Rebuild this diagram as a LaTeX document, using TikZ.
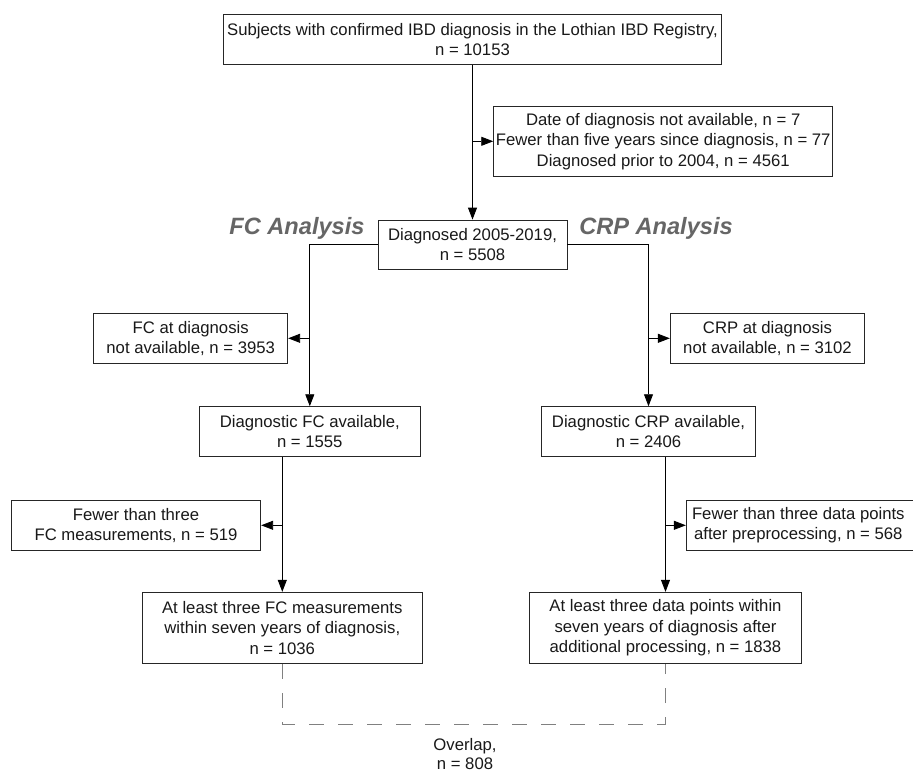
\documentclass[tikz,border=0pt]{standalone}
\usepackage{fontspec}
\setmainfont{Liberation Sans}
\usetikzlibrary{arrows.meta}
\begin{document}
\begin{tikzpicture}[x=1pt,y=-1pt,
  box/.style={draw=black!85, line width=0.9pt, align=center, inner sep=0pt,
    font=\fontsize{16.7}{20.5}\selectfont, text=black!90},
  arr/.style={line width=0.9pt, -{Triangle[length=12pt,width=9pt]}},
  conn/.style={line width=0.9pt},
  dashline/.style={draw=black!50, line width=0.9pt, dash pattern=on 15pt off 14pt},
  analysis/.style={font=\fontsize{23.6}{26}\selectfont\bfseries\itshape, text=black!60, inner sep=0pt},
  plain/.style={align=center, inner sep=0pt, font=\fontsize{16.7}{19.5}\selectfont, text=black!90}]
\clip (0,0) rectangle (913,769);
\fill[white] (0,0) rectangle (913,769);

\node[box, minimum width=498.5pt, minimum height=50pt] (top) at (472.5,39.3)
  {Subjects with confirmed IBD diagnosis in the Lothian IBD Registry,\\ n = 10153};
\node[box, minimum width=339pt, minimum height=70.7pt] (excl) at (663.2,141.3)
  {Date of diagnosis not available, n = 7\\ Fewer than five years since diagnosis, n = 77\\ Diagnosed prior to 2004, n = 4561};
\node[box, minimum width=189pt, minimum height=49.3pt] (diag) at (472.5,244.7)
  {Diagnosed 2005-2019,\\ n = 5508};
\node[analysis] (fclab) at (297,228) {FC Analysis};
\node[analysis] (crplab) at (656,228) {CRP Analysis};

\node[box, minimum width=194pt, minimum height=50pt] (fcna) at (190.7,338.3)
  {FC at diagnosis\\ not available, n = 3953};
\node[box, minimum width=194.4pt, minimum height=50pt] (crpna) at (767.5,338.3)
  {CRP at diagnosis\\ not available, n = 3102};

\node[box, minimum width=221.7pt, minimum height=50pt] (dfc) at (309.8,431.7)
  {Diagnostic FC available,\\ n = 1555};
\node[box, minimum width=213.6pt, minimum height=50pt] (dcrp) at (648.5,431.7)
  {Diagnostic CRP available,\\ n = 2406};

\node[box, minimum width=249.4pt, minimum height=50.7pt] (fcfew) at (136,525.3)
  {Fewer than three\\ FC measurements, n = 519};
\node[box, minimum width=232pt, minimum height=50.7pt] (crpfew) at (802.3,525.3)
  {\hspace*{-8pt}Fewer than three data points\\ \hspace*{-8pt}after preprocessing, n = 568};

\node[box, minimum width=280pt, minimum height=71.4pt] (fcfin) at (282.3,628)
  {At least three FC measurements\\ within seven years of diagnosis,\\ n = 1036};
\node[box, minimum width=272.4pt, minimum height=71.4pt] (crpfin) at (665.5,628)
  {At least three data points within\\ seven years of diagnosis after\\ additional processing, n = 1838};

\node[plain] (ovl) at (465,754) {Overlap,\\ n = 808};
\coordinate (ovc) at (465,724);

% connectors
\draw[arr] (top.south) -- (diag.north);
\draw[arr] (top.south |- excl.west) -- (excl.west);

\draw[arr] (diag.west) -| (dfc.north);
\draw[arr] (dfc.north |- fcna.east) -- (fcna.east);
\draw[arr] (diag.east) -| (dcrp.north);
\draw[arr] (dcrp.north |- crpna.west) -- (crpna.west);

\draw[arr] (fcfin.north |- dfc.south) -- (fcfin.north);
\draw[arr] (fcfin.north |- fcfew.east) -- (fcfew.east);
\draw[arr] (crpfin.north |- dcrp.south) -- (crpfin.north);
\draw[arr] (crpfin.north |- crpfew.west) -- (crpfew.west);

\draw[dashline] (fcfin.south) |- (ovc) -| (crpfin.south);
\end{tikzpicture}
\end{document}
